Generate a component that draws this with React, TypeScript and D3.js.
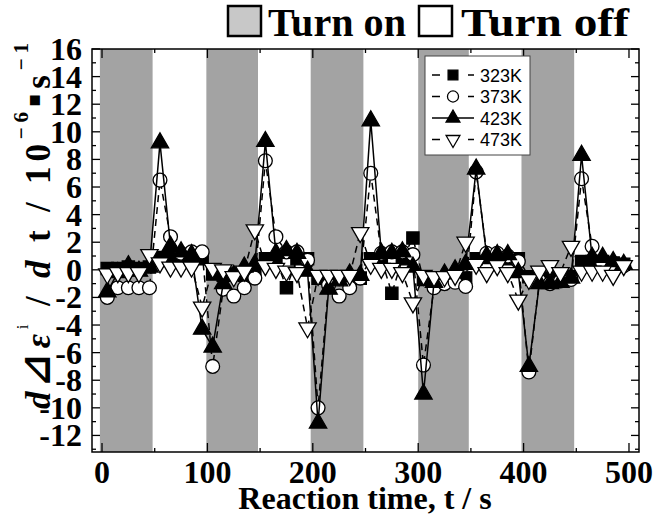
import React, { useEffect, useRef } from 'react';
import * as d3 from 'd3';

// reaction time (s)
const TIME = [
  5, 15, 25, 35, 45, 55, 65, 75, 85, 95,
  105, 115, 125, 135, 145, 155, 165, 175, 185, 195,
  205, 215, 225, 235, 245, 255, 265, 275, 285, 295,
  305, 315, 325, 335, 345, 355, 365, 375, 385, 395,
  405, 415, 425, 435, 445, 455, 465, 475, 485, 495,
];

// strain rate, 10^-6 s^-1
const K323 = [
  0.1, 0.1, 0.2, 0.1, 0.2, 0.9, 0.8, 0.8, 0.9, 0.8,
  -0.3, -0.4, -0.3, -0.4, -0.3, 0.8, 0.8, -1.3, 0.8, 0.8,
  -0.6, -0.7, -0.6, -0.7, -0.6, 0.8, 0.8, -1.7, 0.8, 2.3,
  -0.7, -0.7, -0.8, -0.7, -0.6, 0.8, 0.9, 0.8, 0.8, 0.8,
  -0.5, -0.5, -0.6, -0.5, -0.5, 0.6, 0.6, 0.6, 0.5, 0.4,
];
const K373 = [
  -2.0, -1.3, -1.3, -1.3, -1.3, 6.5, 2.4, 1.2, 1.3, 1.3,
  -7.0, -1.4, -1.9, -1.3, -0.6, 7.9, 2.4, 1.3, 1.3, 0.7,
  -10.0, -1.1, -1.9, -1.3, -0.6, 7.0, 1.2, 1.3, 1.3, 1.1,
  -6.9, -1.3, -1.0, -0.9, -1.2, 7.1, 1.2, 1.2, 1.0, 0.6,
  -7.4, -0.8, -1.0, -0.8, -0.7, 6.6, 1.7, 0.5, 0.3, 0.3,
];
const K423 = [
  -1.6, -0.2, 0.3, -0.1, 0.2, 9.2, 1.7, 1.3, 1.1, -4.3,
  -5.6, -1.0, -0.4, 0.2, 0.4, 9.3, 1.2, 1.4, 1.2, -0.1,
  -11.1, -1.4, -0.8, -0.3, -0.4, 10.8, 1.2, 1.2, 1.3, 0.2,
  -9.0, -0.9, -0.3, 0.0, 0.4, 7.3, 1.0, 1.1, 1.1, -0.2,
  -7.0, -1.0, -1.0, -0.9, -0.6, 8.3, 0.9, 0.9, 0.6, 0.4,
];
const K473 = [
  -0.3, -0.2, -0.2, -0.2, 1.1, 0.5, 0.2, 0.2, 0.2, -2.7,
  0.1, 0.0, -0.5, -0.1, 2.9, 0.3, 0.1, -0.1, -0.2, -4.2,
  -0.4, -0.4, -0.4, -0.4, 2.7, 0.4, 0.1, 0.1, -0.2, -2.4,
  -0.4, -0.5, -0.5, -0.4, 2.0, 0.4, -0.2, 0.3, -0.2, -2.2,
  -0.7, -0.1, 0.3, -0.2, 1.7, -0.1, -0.1, -0.1, -0.4, 0.3,
];

// heater "on" intervals (s)
const ON_START = [-2, 99, 198, 300, 398];
const ON_END = [48, 148, 248, 348, 448];

const X_TICKS = [0, 100, 200, 300, 400, 500];
const X_MINOR = [50, 150, 250, 350, 450];
const Y_TICKS = [16, 14, 12, 10, 8, 6, 4, 2, 0, -2, -4, -6, -8, -10, -12];

const SERIES_NAMES = ['323K', '373K', '423K', '473K'];

const SERIF = '"Liberation Serif", "Times New Roman", serif';
const SANS = '"Liberation Sans", Arial, sans-serif';

export default function App() {
  const svgRef = useRef<SVGSVGElement>(null);

  useEffect(() => {
    const width = 666;
    const height = 515;
    const left = 92, right = 639, top = 49, bottom = 452;

    const svg = d3.select(svgRef.current);
    svg.selectAll('*').remove();
    svg.attr('width', width).attr('height', height);

    const x = d3.scaleLinear().domain([-9.5, 509.5]).range([left, right]);
    const y = d3.scaleLinear().domain([-13.2, 16]).range([bottom, top]);

    const series = [
      { name: SERIES_NAMES[0], values: K323, marker: 'square', dash: '7,5' },
      { name: SERIES_NAMES[1], values: K373, marker: 'circle', dash: '7,5' },
      { name: SERIES_NAMES[2], values: K423, marker: 'up', dash: null },
      { name: SERIES_NAMES[3], values: K473, marker: 'down', dash: '7,5' },
    ];

    const symbolPath = (m: string) => {
      if (m === 'square') return d3.symbol(d3.symbolSquare, 150)();
      if (m === 'circle') return d3.symbol(d3.symbolCircle, 150)();
      return d3.symbol(d3.symbolTriangle, 130)();
    };
    const markerFill = (m: string) => (m === 'square' || m === 'up' ? '#000' : '#fff');

    // shaded "turn on" bands
    svg.append('g')
      .selectAll('rect')
      .data(ON_START)
      .enter()
      .append('rect')
      .attr('x', (d) => x(d))
      .attr('y', top)
      .attr('width', (d, i) => x(ON_END[i]) - x(d))
      .attr('height', bottom - top)
      .attr('fill', '#a3a3a3');

    // ticks: inward on all four sides
    const ticks = svg.append('g').attr('stroke', '#000').attr('stroke-width', 1.3);
    d3.range(-13, 17).forEach((v) => {
      const len = v % 2 === 0 ? 8 : 4;
      ticks.append('line').attr('x1', left).attr('x2', left + len).attr('y1', y(v)).attr('y2', y(v));
      ticks.append('line').attr('x1', right).attr('x2', right - len).attr('y1', y(v)).attr('y2', y(v));
    });
    X_TICKS.concat(X_MINOR).forEach((v) => {
      const len = v % 100 === 0 ? 9 : 4;
      ticks.append('line').attr('x1', x(v)).attr('x2', x(v)).attr('y1', bottom).attr('y2', bottom - len);
      ticks.append('line').attr('x1', x(v)).attr('x2', x(v)).attr('y1', top).attr('y2', top + len);
    });

    // frame
    svg.append('rect')
      .attr('x', left).attr('y', top)
      .attr('width', right - left).attr('height', bottom - top)
      .attr('fill', 'none').attr('stroke', '#000').attr('stroke-width', 1.5);

    // tick labels
    svg.append('g')
      .selectAll('text')
      .data(Y_TICKS)
      .enter()
      .append('text')
      .attr('x', 82)
      .attr('y', (d) => y(d) + 11)
      .attr('text-anchor', 'end')
      .style('font-family', SERIF)
      .style('font-weight', 'bold')
      .style('font-size', '32px')
      .text((d) => String(d));

    svg.append('g')
      .selectAll('text')
      .data(X_TICKS)
      .enter()
      .append('text')
      .attr('x', (d) => x(d))
      .attr('y', 483)
      .attr('text-anchor', 'middle')
      .style('font-family', SERIF)
      .style('font-weight', 'bold')
      .style('font-size', '32px')
      .text((d) => String(d));

    // data
    const line = d3.line<number>()
      .x((d, i) => x(TIME[i]))
      .y((d) => y(d));

    series.forEach((s) => {
      const g = svg.append('g');
      g.append('path')
        .datum(s.values)
        .attr('d', line)
        .attr('fill', 'none')
        .attr('stroke', '#000')
        .attr('stroke-width', 1.5)
        .attr('stroke-dasharray', s.dash);
      g.selectAll('path.pt')
        .data(s.values)
        .enter()
        .append('path')
        .attr('class', 'pt')
        .attr('d', symbolPath(s.marker))
        .attr('transform', (d, i) =>
          `translate(${x(TIME[i])},${y(d)})` + (s.marker === 'down' ? ' rotate(180)' : ''))
        .attr('fill', markerFill(s.marker))
        .attr('stroke', '#000')
        .attr('stroke-width', 1.3);
    });

    // inset legend
    const lg = svg.append('g');
    lg.append('rect')
      .attr('x', 425).attr('y', 56).attr('width', 105).attr('height', 99)
      .attr('fill', '#fff').attr('stroke', '#444').attr('stroke-width', 1);
    series.forEach((s, i) => {
      const cy = 75 + i * 21.5;
      lg.append('line')
        .attr('x1', 432).attr('x2', 474).attr('y1', cy).attr('y2', cy)
        .attr('stroke', '#000').attr('stroke-width', 1.5)
        .attr('stroke-dasharray', s.dash ? '8,10' : null);
      lg.append('path')
        .attr('d', symbolPath(s.marker))
        .attr('transform', `translate(453,${cy}) scale(0.8)` + (s.marker === 'down' ? ' rotate(180)' : ''))
        .attr('fill', markerFill(s.marker))
        .attr('stroke', '#000')
        .attr('stroke-width', 1.6);
      lg.append('text')
        .attr('x', 480).attr('y', cy + 6.5)
        .style('font-family', SANS)
        .style('font-size', '18px')
        .text(s.name);
    });

    // top legend
    const tl = svg.append('g');
    tl.append('rect').attr('x', 228).attr('y', 6).attr('width', 33).attr('height', 30)
      .attr('fill', '#c8c8c8').attr('stroke', '#000').attr('stroke-width', 2.5);
    tl.append('text').attr('x', 268).attr('y', 36)
      .attr('textLength', 138).attr('lengthAdjust', 'spacingAndGlyphs')
      .style('font-family', SERIF).style('font-weight', 'bold').style('font-size', '39px')
      .text('Turn on');
    tl.append('rect').attr('x', 419).attr('y', 6).attr('width', 33).attr('height', 30)
      .attr('fill', '#fff').attr('stroke', '#000').attr('stroke-width', 2.5);
    tl.append('text').attr('x', 461).attr('y', 36)
      .attr('textLength', 168).attr('lengthAdjust', 'spacingAndGlyphs')
      .style('font-family', SERIF).style('font-weight', 'bold').style('font-size', '39px')
      .text('Turn off');

    // x label
    svg.append('text')
      .attr('x', 365).attr('y', 509)
      .attr('text-anchor', 'middle')
      .style('font-family', SERIF).style('font-weight', 'bold').style('font-size', '32px')
      .text('Reaction time, t / s');

    // y label
    const yl = svg.append('text')
      .attr('transform', 'translate(50,226) rotate(-90)')
      .attr('text-anchor', 'middle')
      .attr('textLength', 366).attr('lengthAdjust', 'spacing')
      .style('font-family', SERIF).style('font-weight', 'bold').style('font-size', '35px');
    yl.append('tspan').style('font-style', 'italic').text('d');
    yl.append('tspan').style('font-family', '"DejaVu Sans", sans-serif').style('font-size', '40px').text('⊿');
    yl.append('tspan').style('font-style', 'italic').text('ε');
    yl.append('tspan').attr('dy', -22).style('font-size', '17px').style('font-weight', 'normal').text('i');
    yl.append('tspan').attr('dy', 22).text(' / ');
    yl.append('tspan').style('font-style', 'italic').text('d');
    yl.append('tspan').text(' t / 10');
    yl.append('tspan').attr('dy', -22).style('font-size', '21px').text('−6');
    yl.append('tspan').attr('dy', 12).style('font-family', '"DejaVu Sans", sans-serif').style('font-size', '20px').text('▪');
    yl.append('tspan').attr('dy', 10).text('s');
    yl.append('tspan').attr('dy', -22).style('font-size', '21px').text('−1');
  }, []);

  return (
    <svg ref={svgRef} style={{ position: 'absolute', left: 0, top: 0, background: '#fff' }} />
  );
}
